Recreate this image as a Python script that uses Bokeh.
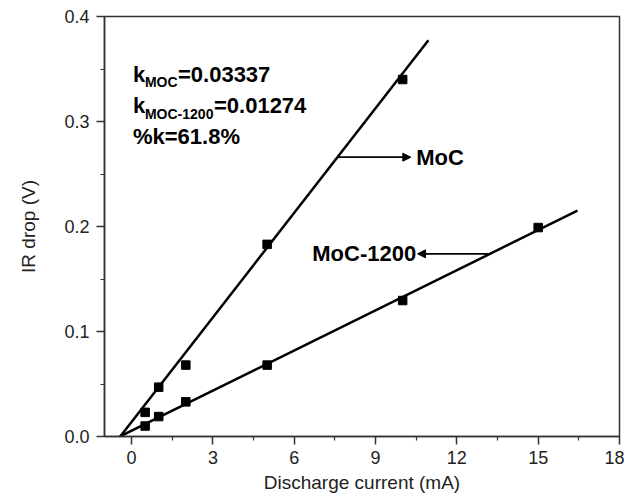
from bokeh.plotting import figure
from bokeh.models import (Range1d, FixedTicker, PrintfTickFormatter, Label,
                          Arrow, NormalHead)
from bokeh.embed import file_html
from bokeh.resources import INLINE

# ---- data ----
moc_x = [0.5, 1, 2, 5, 10]
moc_y = [0.023, 0.047, 0.068, 0.183, 0.340]
moc1200_x = [0.5, 1, 2, 5, 10, 15]
moc1200_y = [0.010, 0.019, 0.033, 0.068, 0.1295, 0.199]

# linear fits (slope, intercept, x extent)
moc_fit = dict(slope=0.0332, intercept=0.0139, x0=-0.42, x1=10.95)
moc1200_fit = dict(slope=0.01274, intercept=0.0055, x0=-0.43, x1=16.45)

x_ticks = [0, 3, 6, 9, 12, 15, 18]
x_minor = [1.5, 4.5, 7.5, 10.5, 13.5, 16.5]
y_ticks = [0.0, 0.1, 0.2, 0.3, 0.4]
y_minor = [0.05, 0.15, 0.25, 0.35]

FONT = "Liberation Sans"
AX = "#222222"

p = figure(width=624, height=495, output_backend="svg", toolbar_location=None,
           x_range=Range1d(-1, 18), y_range=Range1d(0, 0.4),
           min_border_left=104, min_border_right=5, min_border_top=16,
           min_border_bottom=59)
p.grid.visible = False
p.outline_line_color = "#333333"
p.outline_line_width = 1.5
p.background_fill_color = "white"
p.border_fill_color = "white"

for ax in (p.xaxis[0], p.yaxis[0]):
    ax.axis_line_color = "#333333"
    ax.axis_line_width = 1.5
    ax.major_tick_line_color = "#333333"
    ax.major_tick_line_width = 1.5
    ax.minor_tick_line_color = "#333333"
    ax.minor_tick_line_width = 1.2
    ax.major_tick_out = 8
    ax.major_tick_in = 0
    ax.minor_tick_out = 4
    ax.minor_tick_in = 0
    ax.major_label_text_font = FONT
    ax.major_label_text_font_size = "18px"
    ax.major_label_text_color = AX
    ax.axis_label_text_font = FONT
    ax.axis_label_text_font_size = "19px"
    ax.axis_label_text_font_style = "normal"
    ax.axis_label_text_color = AX

p.xaxis.ticker = FixedTicker(ticks=x_ticks, minor_ticks=x_minor)
p.yaxis.ticker = FixedTicker(ticks=y_ticks, minor_ticks=y_minor)
p.xaxis.formatter = PrintfTickFormatter(format="%d")
p.yaxis.formatter = PrintfTickFormatter(format="%.1f")
p.xaxis.axis_label = "Discharge current (mA)"
p.yaxis.axis_label = "IR drop (V)"
p.xaxis.major_label_standoff = 6
p.xaxis.axis_label_standoff = 5
p.yaxis.major_label_standoff = 7
p.yaxis.axis_label_standoff = 22

# points
p.scatter(moc_x, moc_y, marker="square", size=8.5, color="black")
p.scatter(moc1200_x, moc1200_y, marker="square", size=8.5, color="black")

# fit lines
for f in (moc_fit, moc1200_fit):
    xs = [f["x0"], f["x1"]]
    ys = [f["slope"] * x + f["intercept"] for x in xs]
    p.line(xs, ys, line_color="black", line_width=2.5)

# arrows with labels
moc_arrow_y = 0.266
moc_arrow_x0 = (moc_arrow_y - moc_fit["intercept"]) / moc_fit["slope"]
p.add_layout(Arrow(x_start=moc_arrow_x0, y_start=moc_arrow_y, x_end=10.3, y_end=moc_arrow_y,
                   line_width=1.8, line_color="black",
                   end=NormalHead(size=8, fill_color="black", line_color="black")))
p.add_layout(Label(x=10.5, y=moc_arrow_y, text="MoC", text_font=FONT, text_font_size="22px",
                   text_font_style="bold", text_baseline="middle", text_align="left",
                   text_color="black"))

m12_arrow_y = 0.174
m12_arrow_x0 = (m12_arrow_y - moc1200_fit["intercept"]) / moc1200_fit["slope"]
p.add_layout(Arrow(x_start=m12_arrow_x0, y_start=m12_arrow_y, x_end=10.55, y_end=m12_arrow_y,
                   line_width=1.8, line_color="black",
                   end=NormalHead(size=8, fill_color="black", line_color="black")))
p.add_layout(Label(x=10.5, y=m12_arrow_y, text="MoC-1200", text_font=FONT, text_font_size="22px",
                   text_font_style="bold", text_baseline="middle", text_align="right",
                   text_color="black"))

# k annotations
def lab(x, y, text, size, dx=0, dy=0):
    p.add_layout(Label(x=x, y=y, x_offset=dx, y_offset=dy, text=text, text_font=FONT,
                       text_font_size=size, text_font_style="bold",
                       text_baseline="alphabetic", text_align="left", text_color="black"))

ann_x = 0.05
lab(ann_x, 0.3448, "k", "22px")
lab(ann_x, 0.3448, "MOC", "14px", dx=12, dy=-8)
lab(ann_x, 0.3448, "=0.03337", "22px", dx=45)
lab(ann_x, 0.3152, "k", "22px")
lab(ann_x, 0.3152, "MOC-1200", "14px", dx=12, dy=-8)
lab(ann_x, 0.3152, "=0.01274", "22px", dx=81)
lab(ann_x, 0.2857, "%k=61.8%", "22px")

open("out.html", "w").write(file_html(p, INLINE))
